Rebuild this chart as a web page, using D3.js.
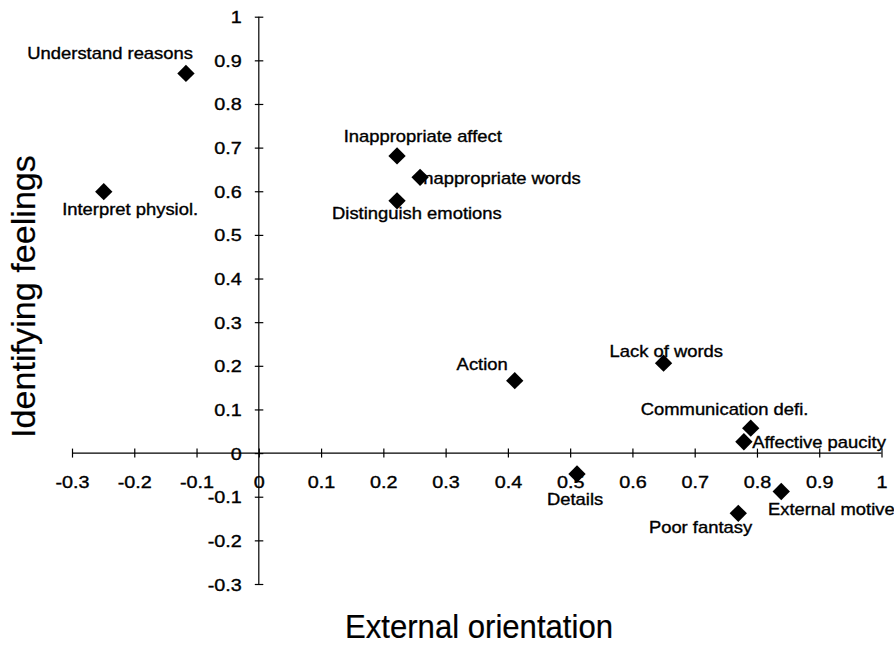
<!DOCTYPE html>
<html>
<head>
<meta charset="utf-8">
<script src="https://cdn.jsdelivr.net/npm/d3@7"></script>
<style>
  html, body { margin: 0; padding: 0; background: #fff; }
  text { font-family: "Liberation Sans", Arial, Helvetica, sans-serif; fill: #000; stroke: #000; stroke-width: 0.35px; }
</style>
</head>
<body>
<svg id="chart" width="894" height="646"></svg>
<script>
// ---- data ----
const names = ["Understand reasons", "Interpret physiol.", "Inappropriate affect", "Inappropriate words",
  "Distinguish emotions", "Action", "Lack of words", "Communication defi.", "Affective paucity",
  "Details", "External motive", "Poor fantasy"];
const externalOrientation = [-0.117, -0.249, 0.222, 0.259, 0.222, 0.411, 0.650, 0.790, 0.779, 0.511, 0.839, 0.770];
const identifyingFeelings = [0.870, 0.599, 0.681, 0.632, 0.578, 0.166, 0.206, 0.057, 0.026, -0.048, -0.088, -0.138];
const tickValues = [-0.3, -0.2, -0.1, 0, 0.1, 0.2, 0.3, 0.4, 0.5, 0.6, 0.7, 0.8, 0.9, 1];
const tickLabels = ["-0.3", "-0.2", "-0.1", "0", "0.1", "0.2", "0.3", "0.4", "0.5", "0.6", "0.7", "0.8", "0.9", "1"];
const xTitle = "External orientation";
const yTitle = "Identifying feelings";

// ---- layout (label placement relative to marker, pixels) ----
const labelPlace = [
  {dx: 7, dy: -14, anchor: "end"},
  {dx: -41.6, dy: 23.3, anchor: "start"},
  {dx: -53.4, dy: -14, anchor: "start"},
  {dx: -2, dy: 6.7, anchor: "start"},
  {dx: -65, dy: 18.3, anchor: "start"},
  {dx: -7, dy: -10.7, anchor: "end"},
  {dx: -54, dy: -6.6, anchor: "start"},
  {dx: -110, dy: -13.3, anchor: "start"},
  {dx: 8.4, dy: 6.6, anchor: "start"},
  {dx: -30, dy: 31, anchor: "start"},
  {dx: -13.3, dy: 23.3, anchor: "start"},
  {dx: -89.4, dy: 19.4, anchor: "start"}
];

const svg = d3.select("#chart");
const x = d3.scaleLinear().domain([-0.3, 1]).range([72, 881.5]);
const y = d3.scaleLinear().domain([-0.3, 1]).range([584, 16.7]);

const labelFmt = v => tickLabels[tickValues.indexOf(v)];

// x axis at y=0, ticks crossing the line
const xAxis = d3.axisBottom(x).tickValues(tickValues).tickSize(0).tickFormat(labelFmt);
const gx = svg.append("g").attr("transform", `translate(0,${y(0)})`).call(xAxis);
gx.attr("font-family", null);
gx.select(".domain").attr("d", `M${x(-0.3)},0H${x(1)}`).attr("stroke", "#000").attr("stroke-width", 1.2);
gx.selectAll(".tick line").attr("y1", -4.5).attr("y2", 4.5).attr("stroke", "#000").attr("stroke-width", 1.2);
gx.selectAll(".tick text").attr("y", 0).attr("dy", 0)
  .attr("transform", "translate(0,35) scale(1.2,1)")
  .attr("font-size", 16.5).attr("fill", "#000");

// y axis at x=0
const yAxis = d3.axisLeft(y).tickValues(tickValues).tickSize(0).tickFormat(labelFmt);
const gy = svg.append("g").attr("transform", `translate(${x(0)},0)`).call(yAxis);
gy.attr("font-family", null);
gy.select(".domain").attr("d", `M0,${y(-0.3)}V${y(1)}`).attr("stroke", "#000").attr("stroke-width", 1.2);
gy.selectAll(".tick line").attr("x1", -4).attr("x2", 4.5).attr("stroke", "#000").attr("stroke-width", 1.2);
gy.selectAll(".tick text").attr("x", 0).attr("dy", 0)
  .attr("transform", "translate(-17,6) scale(1.2,1)")
  .attr("font-size", 16.5).attr("fill", "#000");

// points
const pts = names.map((n, i) => ({name: n, xv: externalOrientation[i], yv: identifyingFeelings[i], place: labelPlace[i]}));
const sym = d3.symbol().type(d3.symbolSquare).size(150);
svg.append("g").selectAll("path").data(pts).join("path")
  .attr("d", sym)
  .attr("transform", d => `translate(${x(d.xv)},${y(d.yv)}) rotate(45)`)
  .attr("fill", "#000");

// labels
const lg = svg.append("g").selectAll("g").data(pts).join("g")
  .attr("transform", d => `translate(${x(d.xv) + d.place.dx},${y(d.yv) + d.place.dy}) scale(1.15,1)`);
lg.append("text")
  .attr("font-size", 16)
  .attr("text-anchor", d => d.place.anchor)
  .text(d => d.name);

// axis titles
svg.append("text")
  .attr("transform", "translate(479,638) scale(0.943,1)")
  .attr("text-anchor", "middle")
  .attr("font-size", 33)
  .style("stroke-width", "0.2px")
  .text(xTitle);
svg.append("text")
  .attr("transform", "translate(35,296.5) rotate(-90) scale(1.035,1)")
  .attr("text-anchor", "middle")
  .attr("font-size", 33)
  .style("stroke-width", "0.2px")
  .text(yTitle);
</script>
</body>
</html>
